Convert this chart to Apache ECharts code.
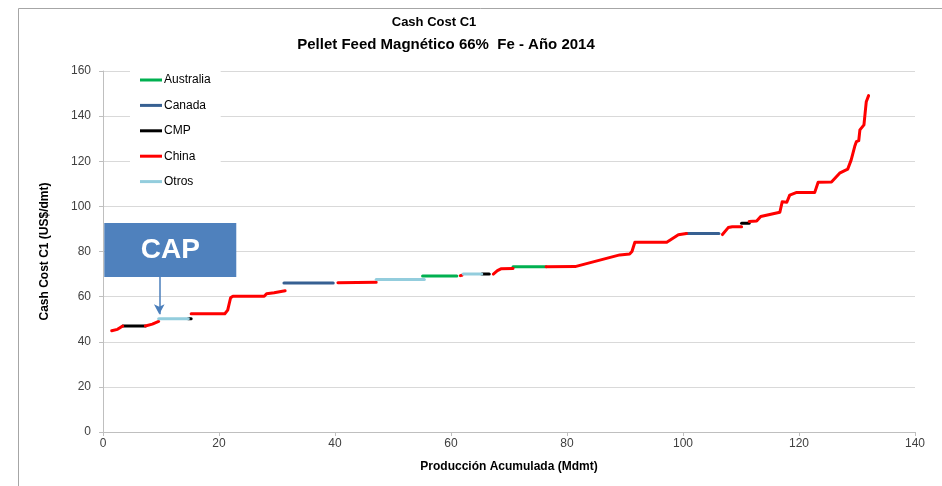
<!DOCTYPE html>
<html>
<head>
<meta charset="utf-8">
<script src="https://cdn.jsdelivr.net/npm/echarts@6/dist/echarts.min.js"></script>
<style>
  html, body { margin: 0; padding: 0; background: #fff; }
  #chart { width: 942px; height: 486px; }
</style>
</head>
<body>
<div id="chart"></div>
<script>
// segmentos de la curva de costos, [produccion acumulada, cash cost]
const australia = [
  [[55.1, 69.1], [61.0, 69.1]],
  [[70.7, 73.2], [76.4, 73.2]]
]
const canada = [
  [[31.2, 66.0], [39.7, 66.0]],
  [[100.6, 88.0], [106.2, 88.0]]
]
const cmp = [
  [[3.4, 47.0], [7.3, 47.0]],
  [[14.7, 50.2], [15.2, 50.2]],
  [[65.3, 70.0], [66.6, 70.0]],
  [[110.1, 92.5], [111.4, 92.5]]
]
const china = [
  [[1.5, 44.9], [2.5, 45.5], [3.4, 47.0]],
  [[7.3, 47.0], [8.5, 47.8], [9.6, 49.0]],
  [[15.2, 52.4], [21.0, 52.4], [21.5, 54.0], [22.0, 59.5], [22.4, 60.2], [27.8, 60.2],
   [28.2, 61.3], [29.5, 61.7], [31.4, 62.6]],
  [[40.5, 66.2], [47.1, 66.4]],
  [[61.6, 69.3], [61.9, 69.5]],
  [[67.3, 70.0], [68.0, 71.5], [68.6, 72.3], [70.7, 72.5]],
  [[76.4, 73.2], [81.4, 73.3], [89.1, 78.5], [90.8, 78.9], [91.2, 80.0], [91.7, 84.1],
   [97.2, 84.1], [99.2, 87.4], [100.6, 88.0]],
  [[106.8, 87.5], [107.8, 90.6], [108.5, 91.0], [110.1, 91.0]],
  [[111.4, 93.3], [112.7, 93.5], [113.4, 95.5], [116.7, 97.4], [117.1, 102.0], [117.9, 101.8],
   [118.4, 105.0], [119.5, 106.1], [122.7, 106.1], [123.3, 110.7], [125.6, 110.8], [127.0, 114.7],
   [128.4, 116.5], [129.0, 120.6], [129.6, 126.5], [129.9, 128.7], [130.3, 129.1], [130.5, 133.9],
   [131.2, 136.1], [131.4, 141.3], [131.6, 146.4], [132.0, 149.1]]
]
const otros = [
  [[9.6, 50.2], [14.7, 50.2]],
  [[47.1, 67.6], [55.4, 67.6]],
  [[62.1, 70.0], [65.3, 70.0]]
]

const paises = ['Australia', 'Canada', 'CMP', 'China', 'Otros']
const colores = ['#00b050', '#376092', '#000000', '#ff0000', '#93cddd']
const datos = [australia, canada, cmp, china, otros]

// anotacion CAP
const capCaja = [11.6, 80.7]
const capFlecha = [[9.7, 68.8], [9.7, 52.2]]

const xTicks = [0, 140, 20]
const yTicks = [0, 160, 20]

var series = []
datos.forEach(function (segs, i) {
  segs.forEach(function (seg) {
    series.push({
      name: paises[i],
      type: 'line',
      data: seg,
      symbol: 'none',
      animation: false,
      z: 3,
      lineStyle: { color: colores[i], width: 3, cap: 'round', join: 'round' },
      itemStyle: { color: colores[i] }
    })
  })
})

// caja y flecha del CAP sobre la primera serie de Otros
var capSerie = series.find(function (s) { return s.name === 'Otros' })
capSerie.markPoint = {
  silent: true,
  animation: false,
  symbol: 'rect',
  symbolSize: [132, 54],
  itemStyle: { color: '#4f81bd' },
  label: {
    show: true,
    position: 'inside',
    formatter: 'CAP',
    color: '#fff',
    fontSize: 28,
    fontWeight: 'bold',
    fontFamily: 'Liberation Sans, Arial, sans-serif'
  },
  data: [{ coord: capCaja }]
}
capSerie.markLine = {
  silent: true,
  animation: false,
  symbol: ['none', 'arrow'],
  symbolSize: [8, 10],
  lineStyle: { color: '#4a7ebb', width: 1.5, type: 'solid' },
  label: { show: false },
  data: [[{ coord: capFlecha[0] }, { coord: capFlecha[1] }]]
}

const chart = echarts.init(document.getElementById('chart'))

var option = {
  animation: false,
  textStyle: { fontFamily: 'Liberation Sans, Arial, sans-serif' },
  title: [{
    text: 'Cash Cost C1',
    left: 429,
    top: 11,
    textAlign: 'center',
    textStyle: { fontSize: 13, fontWeight: 'bold', color: '#000' }
  }, {
    text: 'Pellet Feed Magnético 66%  Fe - Año 2014',
    left: 441,
    top: 32,
    textAlign: 'center',
    textStyle: { fontSize: 15, fontWeight: 'bold', color: '#000' }
  }],
  graphic: [{
    type: 'rect',
    shape: { x: 18.5, y: 8.5, width: 1000, height: 1000 },
    style: { fill: 'none', stroke: '#a6a6a6', lineWidth: 1 },
    silent: true
  }],
  legend: {
    orient: 'vertical',
    left: 130,
    top: 66,
    padding: [7, 10, 7, 10],
    backgroundColor: '#fff',
    icon: 'rect',
    itemWidth: 22,
    itemHeight: 3,
    itemGap: 11.4,
    data: paises,
    textStyle: { fontSize: 12, color: '#000', lineHeight: 14, height: 14, padding: [0, 0, 0, -3] }
  },
  grid: { left: 103, right: 27, top: 71, bottom: 54 },
  xAxis: {
    type: 'value',
    min: xTicks[0],
    max: xTicks[1],
    interval: xTicks[2],
    name: 'Producción Acumulada (Mdmt)',
    nameLocation: 'middle',
    nameGap: 29,
    nameTextStyle: { fontSize: 12, fontWeight: 'bold', color: '#000' },
    axisLine: { lineStyle: { color: '#bfbfbf' } },
    axisTick: { show: true, length: 4, lineStyle: { color: '#bfbfbf' } },
    axisLabel: { fontSize: 12, color: '#404040', margin: 6 },
    splitLine: { show: false }
  },
  yAxis: {
    type: 'value',
    min: yTicks[0],
    max: yTicks[1],
    interval: yTicks[2],
    name: 'Cash Cost C1 (US$/dmt)',
    nameLocation: 'middle',
    nameGap: 52,
    nameTextStyle: { fontSize: 12, fontWeight: 'bold', color: '#000' },
    axisLine: { show: true, lineStyle: { color: '#bfbfbf' } },
    axisTick: { show: true, length: 4, lineStyle: { color: '#bfbfbf' } },
    axisLabel: { fontSize: 12, color: '#404040', margin: 12 },
    splitLine: { lineStyle: { color: '#d9d9d9', width: 1 } }
  },
  series: series
}

chart.setOption(option)
</script>
</body>
</html>
